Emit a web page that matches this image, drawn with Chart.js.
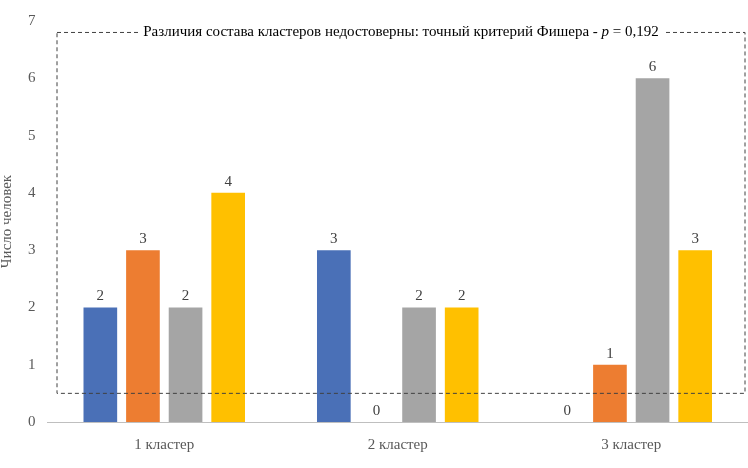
<!DOCTYPE html>
<html><head><meta charset="utf-8">
<script src="https://cdn.jsdelivr.net/npm/chart.js@4/dist/chart.umd.min.js"></script>
<style>body{margin:0;background:#fff}#wrap{width:748px;height:468px}</style>
</head><body><div id="wrap"><canvas id="c"></canvas></div>
<script>
const categories = ['1 кластер', '2 кластер', '3 кластер'];
const series1 = [2, 3, 0];
const series2 = [3, 0, 1];
const series3 = [2, 2, 6];
const series4 = [4, 2, 3];
const colors = ['#4a70b7', '#ed7d31', '#a5a5a5', '#ffc000'];
const note = 'Различия состава кластеров недостоверны: точный критерий Фишера - ';

// labels above each bar, zeros included
const labelPlugin = {
  id: 'labels',
  afterDatasetsDraw(chart) {
    const ctx = chart.ctx;
    ctx.save();
    ctx.font = '15px "Liberation Serif"';
    ctx.fillStyle = '#404040';
    ctx.textAlign = 'center';
    chart.data.datasets.forEach((ds, i) => {
      chart.getDatasetMeta(i).data.forEach((bar, j) => {
        ctx.fillText(ds.data[j], bar.x, bar.y - 7);
      });
    });
    ctx.restore();
  }
};

// dashed frame with the Fisher note
const framePlugin = {
  id: 'frame',
  afterDraw(chart) {
    const ctx = chart.ctx, y = chart.scales.y;
    const top = y.getPixelForValue(6.8), bottom = y.getPixelForValue(0.5);
    const left = 57, right = 745;
    ctx.save();
    ctx.setLineDash([4, 3]);
    ctx.strokeStyle = '#404040';
    ctx.lineWidth = 1;
    ctx.strokeRect(left, top, right - left, bottom - top);
    ctx.setLineDash([]);
    const t2 = ' = 0,192';
    ctx.font = '15px "Liberation Serif"';
    const w1 = ctx.measureText(note).width, w3 = ctx.measureText(t2).width;
    ctx.font = 'italic 15px "Liberation Serif"';
    const w2 = ctx.measureText('p').width;
    const total = w1 + w2 + w3, x0 = (left + right) / 2 - total / 2;
    ctx.fillStyle = '#fff';
    ctx.fillRect(x0 - 5, top - 8, total + 10, 16);
    ctx.fillStyle = '#000';
    ctx.textBaseline = 'middle';
    ctx.font = '15px "Liberation Serif"';
    ctx.fillText(note, x0, top);
    ctx.font = 'italic 15px "Liberation Serif"';
    ctx.fillText('p', x0 + w1, top);
    ctx.font = '15px "Liberation Serif"';
    ctx.fillText(t2, x0 + w1 + w2, top);
    ctx.restore();
  }
};

new Chart(document.getElementById('c'), {
  type: 'bar',
  data: {
    labels: categories,
    datasets: [series1, series2, series3, series4].map((d, i) => ({
      label: 'Ряд ' + (i + 1), data: d, backgroundColor: colors[i],
      categoryPercentage: 0.73, barPercentage: 0.79
    }))
  },
  options: {
    responsive: true, maintainAspectRatio: false, animation: false,
    layout: { padding: { top: -3, right: 0, left: -2, bottom: 0 } },
    plugins: { legend: { display: false }, tooltip: { enabled: false } },
    scales: {
      x: {
        grid: { display: false, drawTicks: false },
        border: { color: '#bfbfbf' },
        ticks: { color: '#595959', font: { family: 'Liberation Serif', size: 15 }, padding: 14 }
      },
      y: {
        min: 0, max: 7,
        grid: { display: false, drawTicks: false },
        border: { display: false },
        title: { display: true, text: 'Число человек', color: '#595959', padding: 0, font: { family: 'Liberation Serif', size: 15 } },
        ticks: { stepSize: 1, color: '#595959', font: { family: 'Liberation Serif', size: 15 }, padding: 12 }
      }
    }
  },
  plugins: [labelPlugin, framePlugin]
});
</script></body></html>
